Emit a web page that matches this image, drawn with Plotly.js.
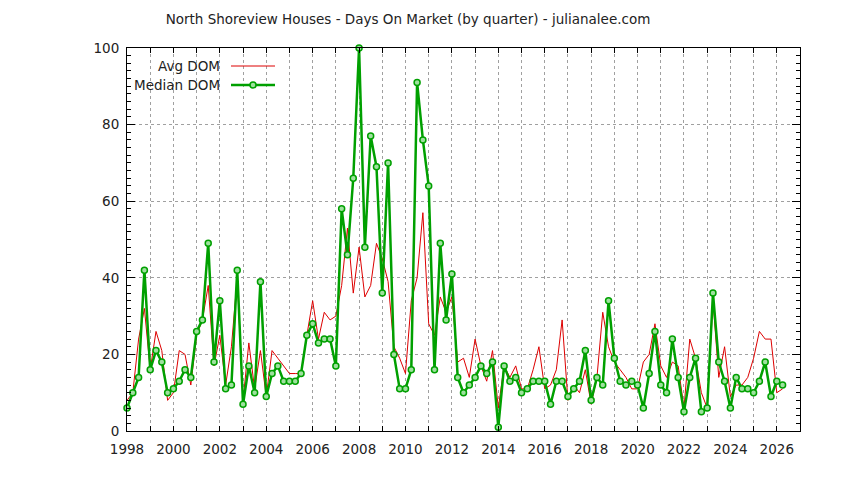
<!DOCTYPE html>
<html>
<head>
<meta charset="utf-8">
<script src="https://cdn.plot.ly/plotly-3.0.1.min.js"></script>
<style>
  body { margin: 0; background: #fff; }
  #chart { width: 844px; height: 480px; }
</style>
</head>
<body>
<div id="chart"></div>
<script>
// quarterly values, first quarter = 1998.0
const startYear = 1998
const avgDom = [
    8, 10, 24, 32, 16, 26, 21, 8, 10, 21, 20, 12, 25, 29, 38, 17,
    25, 12, 22, 40, 8, 23, 11, 21, 9, 21, 19, 17, 15, 15, 15, 25,
    34, 24, 31, 29, 30, 38, 53, 36, 48, 35, 38, 49, 45, 39, 22, 19,
    15, 34, 40, 57, 28, 25, 35, 31, 35, 18, 19, 14, 24, 17, 13, 21,
    6, 17, 14, 17, 11, 11, 16, 22, 11, 12, 16, 29, 8, 12, 10, 16,
    7, 14, 31, 22, 18, 16, 14, 11, 11, 18, 20, 28, 17, 14, 18, 17,
    6, 24, 19, 10, 6, 34, 14, 22, 9, 12, 12, 14, 19, 26, 24, 24,
    10, 11
]
const medianDom = [
    6, 10, 14, 42, 16, 21, 18, 10, 11, 13, 16, 14, 26, 29, 49, 18,
    34, 11, 12, 42, 7, 17, 10, 39, 9, 15, 17, 13, 13, 13, 15, 25,
    28, 23, 24, 24, 17, 58, 46, 66, 100, 48, 77, 69, 36, 70, 20, 11,
    11, 16, 91, 76, 64, 16, 49, 29, 41, 14, 10, 12, 14, 17, 15, 18,
    1, 17, 13, 14, 10, 11, 13, 13, 13, 7, 13, 13, 9, 11, 13, 21,
    8, 14, 12, 34, 19, 13, 12, 13, 12, 6, 15, 26, 12, 10, 24, 14,
    5, 14, 19, 5, 6, 36, 18, 13, 6, 14, 11, 11, 10, 13, 18, 9,
    13, 12
]
const quarters = avgDom.map((v, i) => startYear + i / 4)

const yearTicks = []
const yearLabels = []
for (let y = 1998; y <= 2026; y++) {
    yearTicks.push(y)
    yearLabels.push(y % 2 === 0 ? String(y) : '')
}

const red = '#dd0000'
const green = '#00a000'
const font = { family: 'DejaVu Sans, sans-serif', size: 13.5, color: '#222' }

const avgTrace = {
    x: quarters,
    y: avgDom,
    type: 'scatter',
    mode: 'lines',
    name: 'Avg DOM',
    line: { color: red, width: 1 },
}
const medianTrace = {
    x: quarters,
    y: medianDom,
    type: 'scatter',
    mode: 'lines+markers',
    name: 'Median DOM',
    cliponaxis: false,
    line: { color: green, width: 2.5 },
    marker: { symbol: 'circle', size: 6, color: '#9fe09f', line: { color: green, width: 1.5 } },
}

// plot box in pixels: left 127, right 800, top 48, bottom 431
const px = v => (v - 127) / 673
const py = v => (431 - v) / 383

const layout = {
    width: 844,
    height: 480,
    margin: { l: 127, r: 44, t: 48, b: 49 },
    paper_bgcolor: '#fff',
    plot_bgcolor: '#fff',
    font: font,
    showlegend: false,
    title: {
        text: 'North Shoreview Houses - Days On Market (by quarter) - julianalee.com',
        font: { family: font.family, size: 13.5, color: '#222' },
        xref: 'container', x: 408 / 844, xanchor: 'center',
        yref: 'container', y: 1 - 19 / 480, yanchor: 'middle',
    },
    xaxis: {
        range: [1998, 2027],
        tickmode: 'array',
        tickvals: yearTicks,
        ticktext: yearLabels,
        ticks: 'inside',
        ticklen: 5,
        tickcolor: '#000',
        ticklabelstandoff: 6,
        showline: true,
        linecolor: '#000',
        linewidth: 1,
        mirror: 'allticks',
        showgrid: true,
        gridcolor: '#a0a0a0',
        griddash: 'dot',
        gridwidth: 1,
        zeroline: false,
    },
    yaxis: {
        range: [0, 100],
        dtick: 20,
        ticks: 'inside',
        ticklen: 8,
        tickcolor: '#000',
        ticklabelstandoff: 4,
        showline: true,
        linecolor: '#000',
        linewidth: 1,
        mirror: 'allticks',
        showgrid: true,
        gridcolor: '#a0a0a0',
        griddash: 'dot',
        gridwidth: 1,
        zeroline: false,
        minor: { dtick: 2, ticks: 'inside', ticklen: 4, tickcolor: '#000', showgrid: false },
    },
    annotations: [
        { text: 'Avg DOM', xref: 'paper', yref: 'paper', x: px(222), y: py(66), xanchor: 'right', yanchor: 'middle', showarrow: false, font: font },
        { text: 'Median DOM', xref: 'paper', yref: 'paper', x: px(222), y: py(85), xanchor: 'right', yanchor: 'middle', showarrow: false, font: font },
    ],
    shapes: [
        { type: 'line', xref: 'paper', yref: 'paper', x0: px(231), x1: px(275), y0: py(66), y1: py(66), line: { color: red, width: 1 } },
        { type: 'line', xref: 'paper', yref: 'paper', x0: px(231), x1: px(275), y0: py(85), y1: py(85), line: { color: green, width: 2.5 } },
        {
            type: 'circle', xref: 'paper', yref: 'paper', xsizemode: 'pixel', ysizemode: 'pixel',
            xanchor: px(253), yanchor: py(85), x0: -3, x1: 3, y0: -3, y1: 3,
            fillcolor: '#9fe09f', line: { color: green, width: 1.5 }
        },
    ],
}

Plotly.newPlot('chart', [avgTrace, medianTrace], layout, { displayModeBar: false, staticPlot: true })
</script>
</body>
</html>
